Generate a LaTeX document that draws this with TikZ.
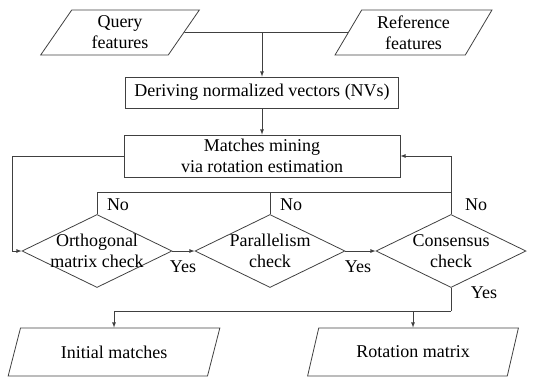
\documentclass[tikz,border=0pt]{standalone}
\usepackage{fontspec}
\setmainfont{Liberation Serif}
\usetikzlibrary{shapes.geometric}
\tikzset{>=latex,
  io/.style={draw=black!75, trapezium, trapezium left angle=61, trapezium right angle=119,
    trapezium stretches=true, align=center, inner sep=0pt},
  process/.style={draw=black!75, rectangle, align=center, inner sep=0pt},
  decision/.style={draw=black!75, diamond, inner sep=0pt, minimum width=150pt, minimum height=73pt},
  flow/.style={draw=black!75},
}

\begin{document}
\begin{tikzpicture}[x=1pt,y=-1pt,font=\fontsize{18}{21}\selectfont,line width=0.8pt]
    \useasboundingbox (0,0) rectangle (545,378);
    % inputs
    \node[io, minimum width=160pt, minimum height=45pt] (query) at (120,32.5) {Query\\features};
    \node[io, minimum width=157pt, minimum height=45pt] (ref) at (413.5,32.5) {Reference\\features};
    \coordinate (join) at (262,32.5);
    % processing
    \node[process, minimum width=273pt, minimum height=31pt] (nv) at (262,92.5) {Deriving normalized vectors (NVs)};
    \node[process, minimum width=276pt, minimum height=42pt] (mine) at (262,156) {Matches mining\\via rotation estimation};
    % checks
    \node[decision] (ortho) at (97,251) {};
    \node[decision] (para) at (270,251) {};
    \node[decision] (cons) at (451,251) {};
    \node[align=center] (orthotxt) at (ortho) {Orthogonal\\matrix check};
    \node[align=center] (paratxt) at (para) {Parallelism\\check};
    \node[align=center] (constxt) at (cons) {Consensus\\check};
    % outputs
    \node[io, minimum width=212pt, minimum height=48pt] (init) at (114,352) {Initial matches};
    \node[io, minimum width=211pt, minimum height=48pt] (rot) at (413,352) {Rotation matrix};
    \coordinate (loop) at (12,156);
    \coordinate (back) at (451,192);
    \coordinate (split) at (451,311);

    \draw[flow] (query.east) -- (ref.west);
    \draw[flow,->] (join) -- (join |- nv.north);
    \draw[flow,->] (nv.south -| join) -- (join |- mine.north);
    \draw[flow,->] (mine.west) -- (loop) |- (ortho.west);
    \draw[flow] (ortho.north) |- (back);
    \draw[flow] (para.north) -- (para.north |- back);
    \draw[flow,->] (cons.north) |- (mine.east);
    \draw[flow,->] (ortho.east) -- (para.west);
    \draw[flow,->] (para.east) -- (cons.west);
    \draw[flow] (cons.south) -- (split);
    \draw[flow,->] (split) -| (init.north);
    \draw[flow,->] (split -| rot.north) -- (rot.north);

    \node (no1) at (118,205) {No};
    \node (no2) at (291,205) {No};
    \node (no3) at (476,205) {No};
    \node (yes1) at (183,267) {Yes};
    \node (yes2) at (358,267) {Yes};
    \node (yes3) at (484,293) {Yes};
\end{tikzpicture}
\end{document}
